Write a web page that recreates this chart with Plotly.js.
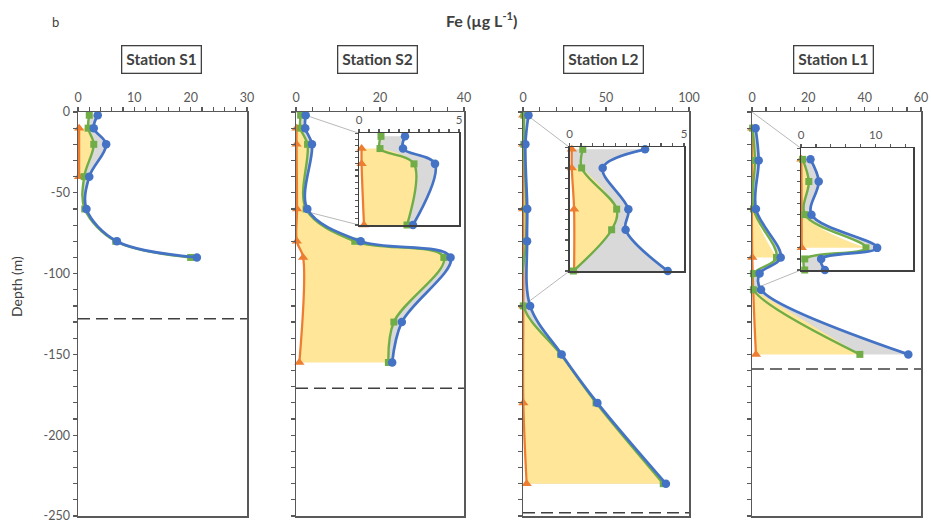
<!DOCTYPE html>
<html><head><meta charset="utf-8">
<script src="https://cdn.plot.ly/plotly-3.0.1.min.js"></script>
<style>html,body{margin:0;padding:0;background:#fff}</style>
</head><body><div id="chart" style="width:931px;height:523px"></div>
<script>
// ---------------- DATA ----------------
const stations = ['Station S1', 'Station S2', 'Station L2', 'Station L1'];
const xMax = [30, 40, 100, 60];
const xMajor = [10, 20, 50, 20];
const xMinor = [2, 4, 10, 5];
const bottomDepths = [-128, -171, -248, -159];
const yTickVals = [0, -50, -100, -150, -200, -250];
const yTickText = ['0', '-50', '-100', '-150', '-200', '-250'];

// Station S1
const s1Depth = [-2, -10, -20, -40, -60, -80, -90];
const s1Blue = [3.5, 2.8, 5.0, 2.0, 1.5, 6.9, 21.1];
const s1Green = [2.0, 1.8, 2.8, 1.1, 1.2, 6.7, 20.0];
const s1OrangeDepth = [-10, -40];
const s1Orange = [0.2, 0.2];
const s1YellowRanges = [[-10, -40]];

// Station S2
const s2Depth = [-2, -10, -20, -60, -80, -90, -130, -155];
const s2Blue = [2.3, 2.2, 3.8, 2.7, 15.4, 36.8, 25.2, 22.9];
const s2Green = [1.1, 1.05, 2.75, 2.4, 14.0, 35.2, 23.3, 22.0];
const s2OrangeDepth = [-10, -20, -60, -80, -90, -155];
const s2Orange = [0.13, 0.13, 0.25, 0.2, 1.7, 0.8];
const s2YellowRanges = [[-10, -155]];

// Station L2
const l2Depth = [-2, -20, -60, -80, -120, -150, -180, -230];
const l2Blue = [3.3, 1.45, 2.57, 2.45, 4.29, 23.3, 44.8, 86.1];
const l2Green = [0.58, 0.53, 2.06, 1.84, 0.17, 22.7, 44.0, 84.5];
const l2OrangeDepth = [-2, -20, -60, -120, -180, -230];
const l2Orange = [0.1, 0.1, 0.2, 0.2, 0.2, 2.2];
const l2YellowRanges = [[-20, -230]];

// Station L1
const l1Depth = [-10, -30, -60, -90, -100, -110, -150];
const l1Blue = [1.27, 2.37, 1.4, 10.2, 2.7, 3.2, 55.5];
const l1Green = [0.22, 1.05, 0.53, 8.7, 0.5, 0.5, 38.3];
const l1OrangeDepth = [-10, -90, -150];
const l1Orange = [0.05, 0.1, 1.4];
const l1YellowRanges = [[-10, -90], [-110, -150]];

// Insets (which station, x range max, x major/minor, depth bottom, depth tick)
const insetStation = [1, 2, 3];
const insetXMax = [5, 5, 15];
const insetXMajor = [5, 5, 10];
const insetXMinor = [0.5, 0.5, 2];
const insetDepthMin = [-60, -120, -110];
const insetYTick = [4, 10, 10];

// ---------------- LAYOUT GEOMETRY ----------------
const W = 931, H = 523;
const mainPx = [[78, 247], [296, 464], [523, 689], [752, 921]];
const mainPy = [112, 516];
const insetBox = [[359, 459, 133.3, 225], [569.5, 684, 147.3, 271], [801, 913, 148.3, 270]];
const labelX = [161, 377, 603.5, 833.5];

const C_BLUE = '#4472C4', C_GREEN = '#70AD47', C_ORANGE = '#ED7D31';
const C_YELLOW = '#FFE699', C_GREY = '#D9D9D9', C_AX = '#595959', C_TXT = '#404040';
const FONT = 'Lato, "Open Sans", sans-serif';

const st = [
  {d: s1Depth, b: s1Blue, g: s1Green, od: s1OrangeDepth, o: s1Orange, yr: s1YellowRanges, greyBase: 'green'},
  {d: s2Depth, b: s2Blue, g: s2Green, od: s2OrangeDepth, o: s2Orange, yr: s2YellowRanges, greyBase: 'green'},
  {d: l2Depth, b: l2Blue, g: l2Green, od: l2OrangeDepth, o: l2Orange, yr: l2YellowRanges, greyBase: 'orange'},
  {d: l1Depth, b: l1Blue, g: l1Green, od: l1OrangeDepth, o: l1Orange, yr: l1YellowRanges, greyBase: 'green'}
];

function clipPts(d, v, top, bottom) {
  const D = [], V = [];
  d.forEach((dd, i) => { if (dd <= top + 1e-9 && dd >= bottom - 1e-9) { D.push(dd); V.push(v[i]); } });
  return [D, V];
}
function interp(d, v, t) {
  for (let i = 0; i < d.length - 1; i++) {
    if ((d[i] - t) * (d[i + 1] - t) <= 0) {
      const f = (t - d[i]) / (d[i + 1] - d[i]);
      return v[i] + f * (v[i + 1] - v[i]);
    }
  }
  return null;
}
function baseWithEnds(d, v, top, bottom) {
  let [D, V] = clipPts(d, v, top, bottom);
  if (D[0] !== top) { const x = interp(d, v, top); if (x !== null) { D.unshift(top); V.unshift(x); } }
  if (D[D.length - 1] !== bottom) { const x = interp(d, v, bottom); if (x !== null) { D.push(bottom); V.push(x); } }
  return [D, V];
}

const traces = [];
function addProfile(s, xa, ya, dMin) {
  const common = {type: 'scatter', xaxis: xa, yaxis: ya, hoverinfo: 'skip', showlegend: false, cliponaxis: false};
  const inv = {width: 0.1, shape: 'spline', color: 'rgba(0,0,0,0)'};
  // grey fill
  const gb = s.greyBase === 'green' ? clipPts(s.d, s.g, 0, dMin) : clipPts(s.od, s.o, 0, dMin);
  const gt = clipPts(s.d, s.b, 0, dMin);
  traces.push(Object.assign({}, common, {x: gb[1], y: gb[0], mode: 'lines', line: inv}));
  traces.push(Object.assign({}, common, {x: gt[1], y: gt[0], mode: 'lines', line: inv, fill: 'tonextx', fillcolor: C_GREY}));
  // yellow fills
  s.yr.forEach(r => {
    const top = Math.min(r[0], 0), bot = Math.max(r[1], dMin);
    if (bot >= top) return;
    const yb = baseWithEnds(s.od, s.o, top, bot);
    const yt = clipPts(s.d, s.g, top, bot);
    if (yt[0].length < 2) return;
    traces.push(Object.assign({}, common, {x: yb[1], y: yb[0], mode: 'lines', line: inv}));
    traces.push(Object.assign({}, common, {x: yt[1], y: yt[0], mode: 'lines', line: inv, fill: 'tonextx', fillcolor: C_YELLOW}));
  });
  const o = clipPts(s.od, s.o, 0, dMin), g = clipPts(s.d, s.g, 0, dMin), b = clipPts(s.d, s.b, 0, dMin);
  traces.push(Object.assign({}, common, {name: 'Orange', x: o[1], y: o[0], mode: 'lines+markers',
    line: {color: C_ORANGE, width: 2.25, shape: 'spline'}, marker: {symbol: 'triangle-up', size: 9, color: C_ORANGE}}));
  traces.push(Object.assign({}, common, {name: 'Green', x: g[1], y: g[0], mode: 'lines+markers',
    line: {color: C_GREEN, width: 2.4, shape: 'spline'}, marker: {symbol: 'square', size: 7, color: C_GREEN}}));
  traces.push(Object.assign({}, common, {name: 'Blue', x: b[1], y: b[0], mode: 'lines+markers',
    line: {color: C_BLUE, width: 2.7, shape: 'spline'}, marker: {symbol: 'circle', size: 8.5, color: C_BLUE}}));
}

const layout = {
  width: W, height: H, margin: {l: 0, r: 0, t: 0, b: 0},
  paper_bgcolor: '#fff', plot_bgcolor: '#fff', showlegend: false,
  font: {family: FONT, color: C_AX},
  annotations: [], shapes: []
};
const yTop = 1 - mainPy[0] / H, yBot = 1 - mainPy[1] / H;
const tickStyle = {ticks: 'outside', ticklen: 4, tickwidth: 1.2, tickcolor: C_AX};

for (let i = 0; i < 4; i++) {
  const n = i === 0 ? '' : String(i + 1);
  const xa = 'x' + n, ya = 'y' + n;
  layout['xaxis' + n] = Object.assign({
    domain: [mainPx[i][0] / W, mainPx[i][1] / W], range: [0, xMax[i]], side: 'top', anchor: ya,
    showline: true, linecolor: C_AX, linewidth: 1.5, mirror: true, showgrid: false, zeroline: false,
    tick0: 0, dtick: xMajor[i], tickfont: {family: FONT, size: 12.5, color: C_AX}, fixedrange: true,
    ticklabeloverflow: 'allow',
    minor: Object.assign({tickmode: 'linear', tick0: 0, dtick: xMinor[i]}, tickStyle)
  }, tickStyle);
  layout['yaxis' + n] = Object.assign({
    domain: [yBot, yTop], range: [-250, 0], anchor: xa,
    showline: true, linecolor: C_AX, linewidth: 1.5, mirror: true, showgrid: false, zeroline: false,
    tickmode: 'array', tickvals: yTickVals, ticktext: yTickText, showticklabels: i === 0,
    tickfont: {family: FONT, size: 12.5, color: C_AX}, fixedrange: true, ticklabeloverflow: 'allow',
    minor: Object.assign({tickmode: 'linear', tick0: 0, dtick: 10}, tickStyle)
  }, tickStyle);
  addProfile(st[i], xa, ya, -250);
  // dashed bottom line
  layout.shapes.push({type: 'line', xref: xa + ' domain', yref: ya, x0: 0, x1: 1, y0: bottomDepths[i], y1: bottomDepths[i],
    line: {color: C_TXT, width: 1.5, dash: '12px,6px'}});
  // station label
  layout.annotations.push({text: '<b>' + stations[i] + '</b>', xref: 'paper', yref: 'paper',
    x: labelX[i] / W, y: 1 - 60 / H, xanchor: 'center', yanchor: 'middle', showarrow: false,
    font: {family: FONT, size: 15.5, color: C_TXT},
    bordercolor: C_TXT, borderwidth: 1.3, borderpad: 4, bgcolor: '#fff'});
}

// insets
for (let k = 0; k < 3; k++) {
  const si = insetStation[k];
  const n = String(5 + k);
  const xa = 'x' + n, ya = 'y' + n;
  const bx = insetBox[k];
  layout['xaxis' + n] = Object.assign({
    domain: [bx[0] / W, bx[1] / W], range: [0, insetXMax[k]], side: 'top', anchor: ya,
    showline: true, linecolor: C_TXT, linewidth: 1.5, mirror: true, showgrid: false, zeroline: false,
    tick0: 0, dtick: insetXMajor[k], tickfont: {family: FONT, size: 11.5, color: C_AX}, fixedrange: true,
    minor: Object.assign({tickmode: 'linear', tick0: 0, dtick: insetXMinor[k]}, tickStyle, {ticklen: 3})
  }, tickStyle, {ticklen: 3});
  layout['yaxis' + n] = Object.assign({
    domain: [1 - bx[3] / H, 1 - bx[2] / H], range: [insetDepthMin[k], 0], anchor: xa,
    showline: true, linecolor: C_TXT, linewidth: 1.5, mirror: true, showgrid: false, zeroline: false,
    tick0: 0, dtick: insetYTick[k], showticklabels: false, fixedrange: true
  }, tickStyle, {ticklen: 3});
  addProfile(st[si], xa, ya, insetDepthMin[k]);
  // connector lines from main (0,0) and (0,insetMin) to inset corners
  const mx = mainPx[si][0] / W;
  const myLow = yBot + (insetDepthMin[k] + 250) / 250 * (yTop - yBot);
  const conn = {type: 'line', xref: 'paper', yref: 'paper', layer: 'below', line: {color: '#A6A6A6', width: 0.8}};
  layout.shapes.push(Object.assign({}, conn, {x0: mx, y0: yTop, x1: bx[0] / W, y1: 1 - bx[2] / H}));
  layout.shapes.push(Object.assign({}, conn, {x0: mx, y0: myLow, x1: bx[0] / W, y1: 1 - bx[3] / H}));
}

layout.annotations.push({text: '<b>Fe (µg L<sup>-1</sup>)</b>', xref: 'paper', yref: 'paper', x: 482 / W, y: 1 - 20 / H,
  xanchor: 'center', yanchor: 'middle', showarrow: false, font: {family: FONT, size: 16, color: C_TXT}});
layout.annotations.push({text: 'b', xref: 'paper', yref: 'paper', x: 55 / W, y: 1 - 22 / H,
  xanchor: 'center', yanchor: 'middle', showarrow: false, font: {family: FONT, size: 13, color: C_TXT}});
layout.annotations.push({text: 'Depth (m)', xref: 'paper', yref: 'paper', x: 16 / W, y: 1 - 287 / H, textangle: -90,
  xanchor: 'center', yanchor: 'middle', showarrow: false, font: {family: FONT, size: 14, color: C_TXT}});

Plotly.newPlot('chart', traces, layout, {staticPlot: true, displayModeBar: false});
</script>
</body></html>
